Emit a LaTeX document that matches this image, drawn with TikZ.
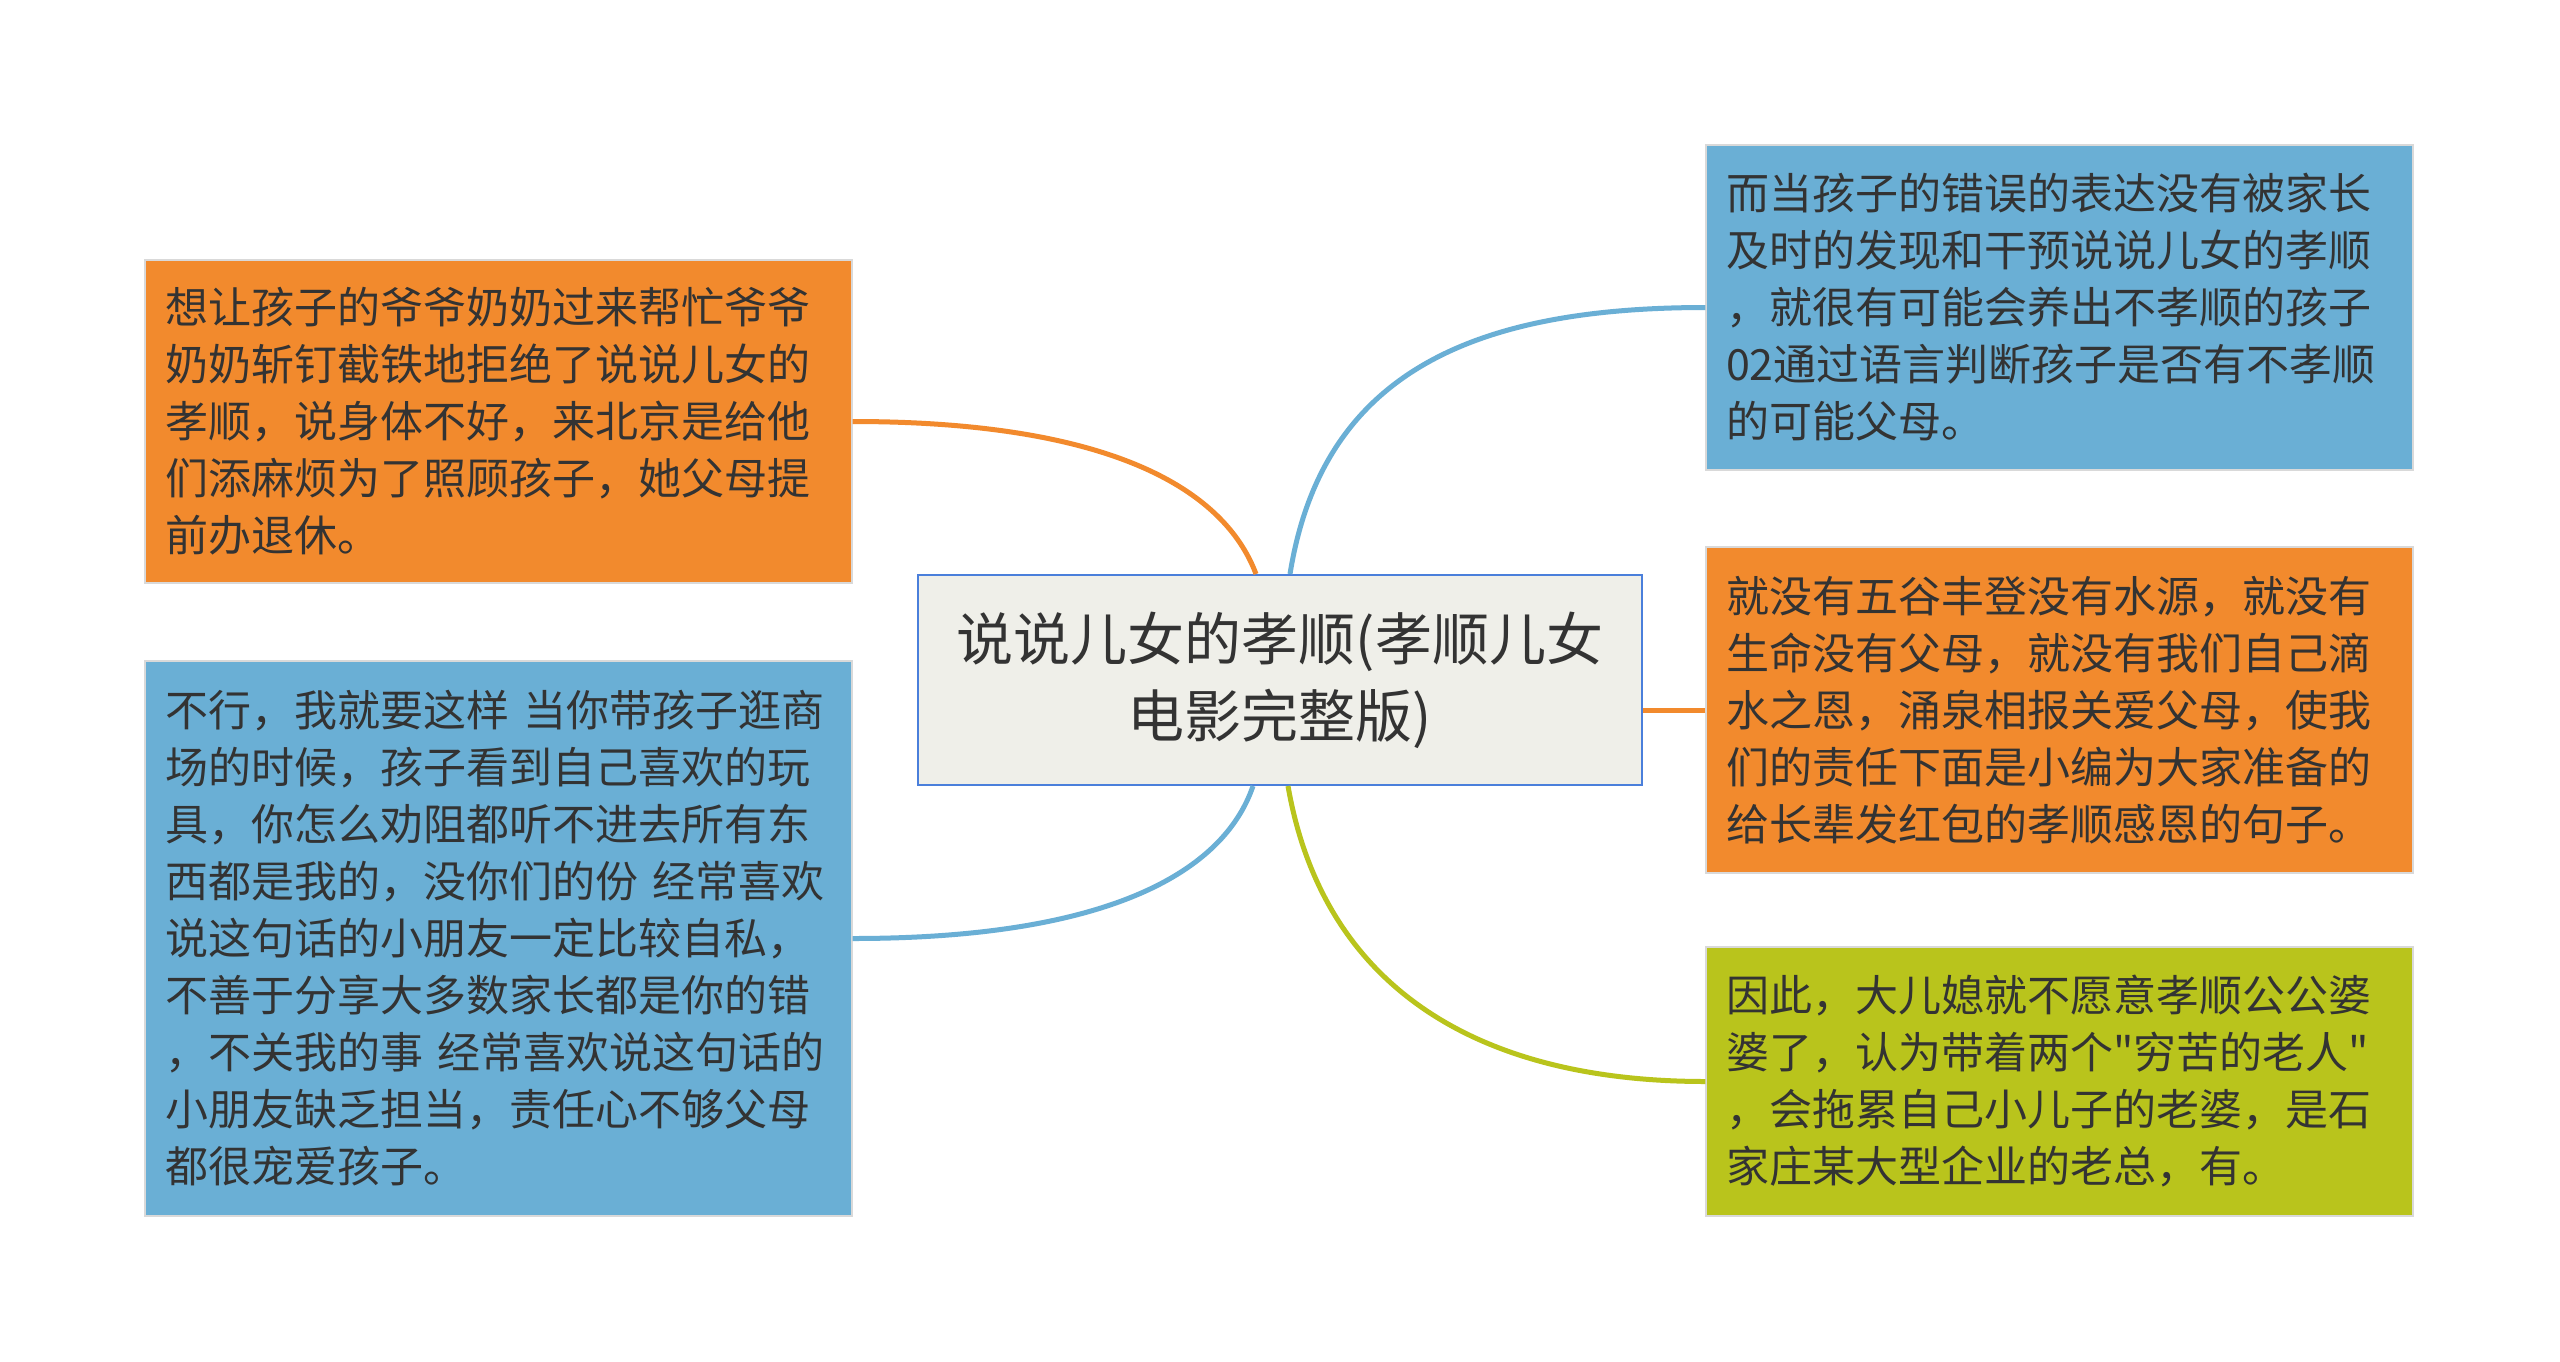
\documentclass[tikz,border=0pt]{standalone}
\usepackage{fontspec}
\setmainfont{Noto Sans CJK SC}
\newfontfamily\qfont{Noto Sans CJK SC}
\definecolor{orangeC}{HTML}{F28A2D}
\definecolor{blueC}{HTML}{6AAFD5}
\definecolor{greenC}{HTML}{B9C41C}
\definecolor{centerfill}{HTML}{EFEFE9}
\definecolor{centerline}{HTML}{4A7FDB}
\definecolor{txt}{HTML}{333333}
\begin{document}
\begin{tikzpicture}[x=0.5pt,y=-0.5pt,
  leaf/.style={rectangle, draw=white!85!black, line width=0.6pt,
    minimum width=353.5pt, minimum height=#1, text width=333.5pt,
    inner xsep=10pt, inner ysep=0pt, align=left, text=txt,
    font=\fontsize{21.5pt}{28.5pt}\selectfont},
  hub/.style={rectangle, draw=centerline, line width=1pt, fill=centerfill,
    minimum width=362pt, minimum height=105pt, text width=340pt,
    inner xsep=11pt, align=center, text=txt,
    font=\fontsize{28.5pt}{38.5pt}\selectfont},
  conn/.style={line width=2.5pt}]
\fill[white] (0,0) rectangle (2560,1361);
\useasboundingbox (0,0) rectangle (2560,1361);

\node[hub] (c) at (1280,680) {说说儿女的孝顺(孝顺儿女\\电影完整版)};

\node[leaf=161.5pt, fill=orangeC] (lt) at (498.5,421.5)
  {想让孩子的爷爷奶奶过来帮忙爷爷\\奶奶斩钉截铁地拒绝了说说儿女的\\孝顺，说身体不好，来北京是给他\\们添麻烦为了照顾孩子，她父母提\\前办退休。};

\node[leaf=277.5pt, fill=blueC] (lb) at (498.5,938.5)
  {不行，我就要这样 当你带孩子逛商\\场的时候，孩子看到自己喜欢的玩\\具，你怎么劝阻都听不进去所有东\\西都是我的，没你们的份 经常喜欢\\说这句话的小朋友一定比较自私，\\不善于分享大多数家长都是你的错\\，不关我的事 经常喜欢说这句话的\\小朋友缺乏担当，责任心不够父母\\都很宠爱孩子。};

\node[leaf=162.5pt, fill=blueC] (rt) at (2059.5,307.5)
  {而当孩子的错误的表达没有被家长\\及时的发现和干预说说儿女的孝顺\\，就很有可能会养出不孝顺的孩子\\02通过语言判断孩子是否有不孝顺\\的可能父母。};

\node[leaf=163pt, fill=orangeC] (rm) at (2059.5,710)
  {就没有五谷丰登没有水源，就没有\\生命没有父母，就没有我们自己滴\\水之恩，涌泉相报关爱父母，使我\\们的责任下面是小编为大家准备的\\给长辈发红包的孝顺感恩的句子。};

\node[leaf=134.5pt, fill=greenC] (rb) at (2059.5,1081.5)
  {因此，大儿媳就不愿意孝顺公公婆\\婆了，认为带着两个{\qfont"}穷苦的老人{\qfont"}\\，会拖累自己小儿子的老婆，是石\\家庄某大型企业的老总，有。};

\coordinate (ct1) at ([xshift=-12pt]c.north);
\coordinate (ct2) at ([xshift=5pt]c.north);
\coordinate (cb1) at ([xshift=-13.5pt]c.south);
\coordinate (cb2) at ([xshift=4pt]c.south);

\draw[conn, orangeC] (lt.east) .. controls +(258,0) and +(-32,-85) .. (ct1);
\draw[conn, blueC] (ct2) .. controls +(32,-199) and +(-236,0) .. (rt.west);
\draw[conn, blueC] (lb.east) .. controls +(258,0) and +(-29,85) .. (cb1);
\draw[conn, greenC] (cb2) .. controls +(34,195) and +(-236,0) .. (rb.west);
\draw[conn, orangeC] (rm.west) -- (rm.west -| c.east);
\end{tikzpicture}
\end{document}
